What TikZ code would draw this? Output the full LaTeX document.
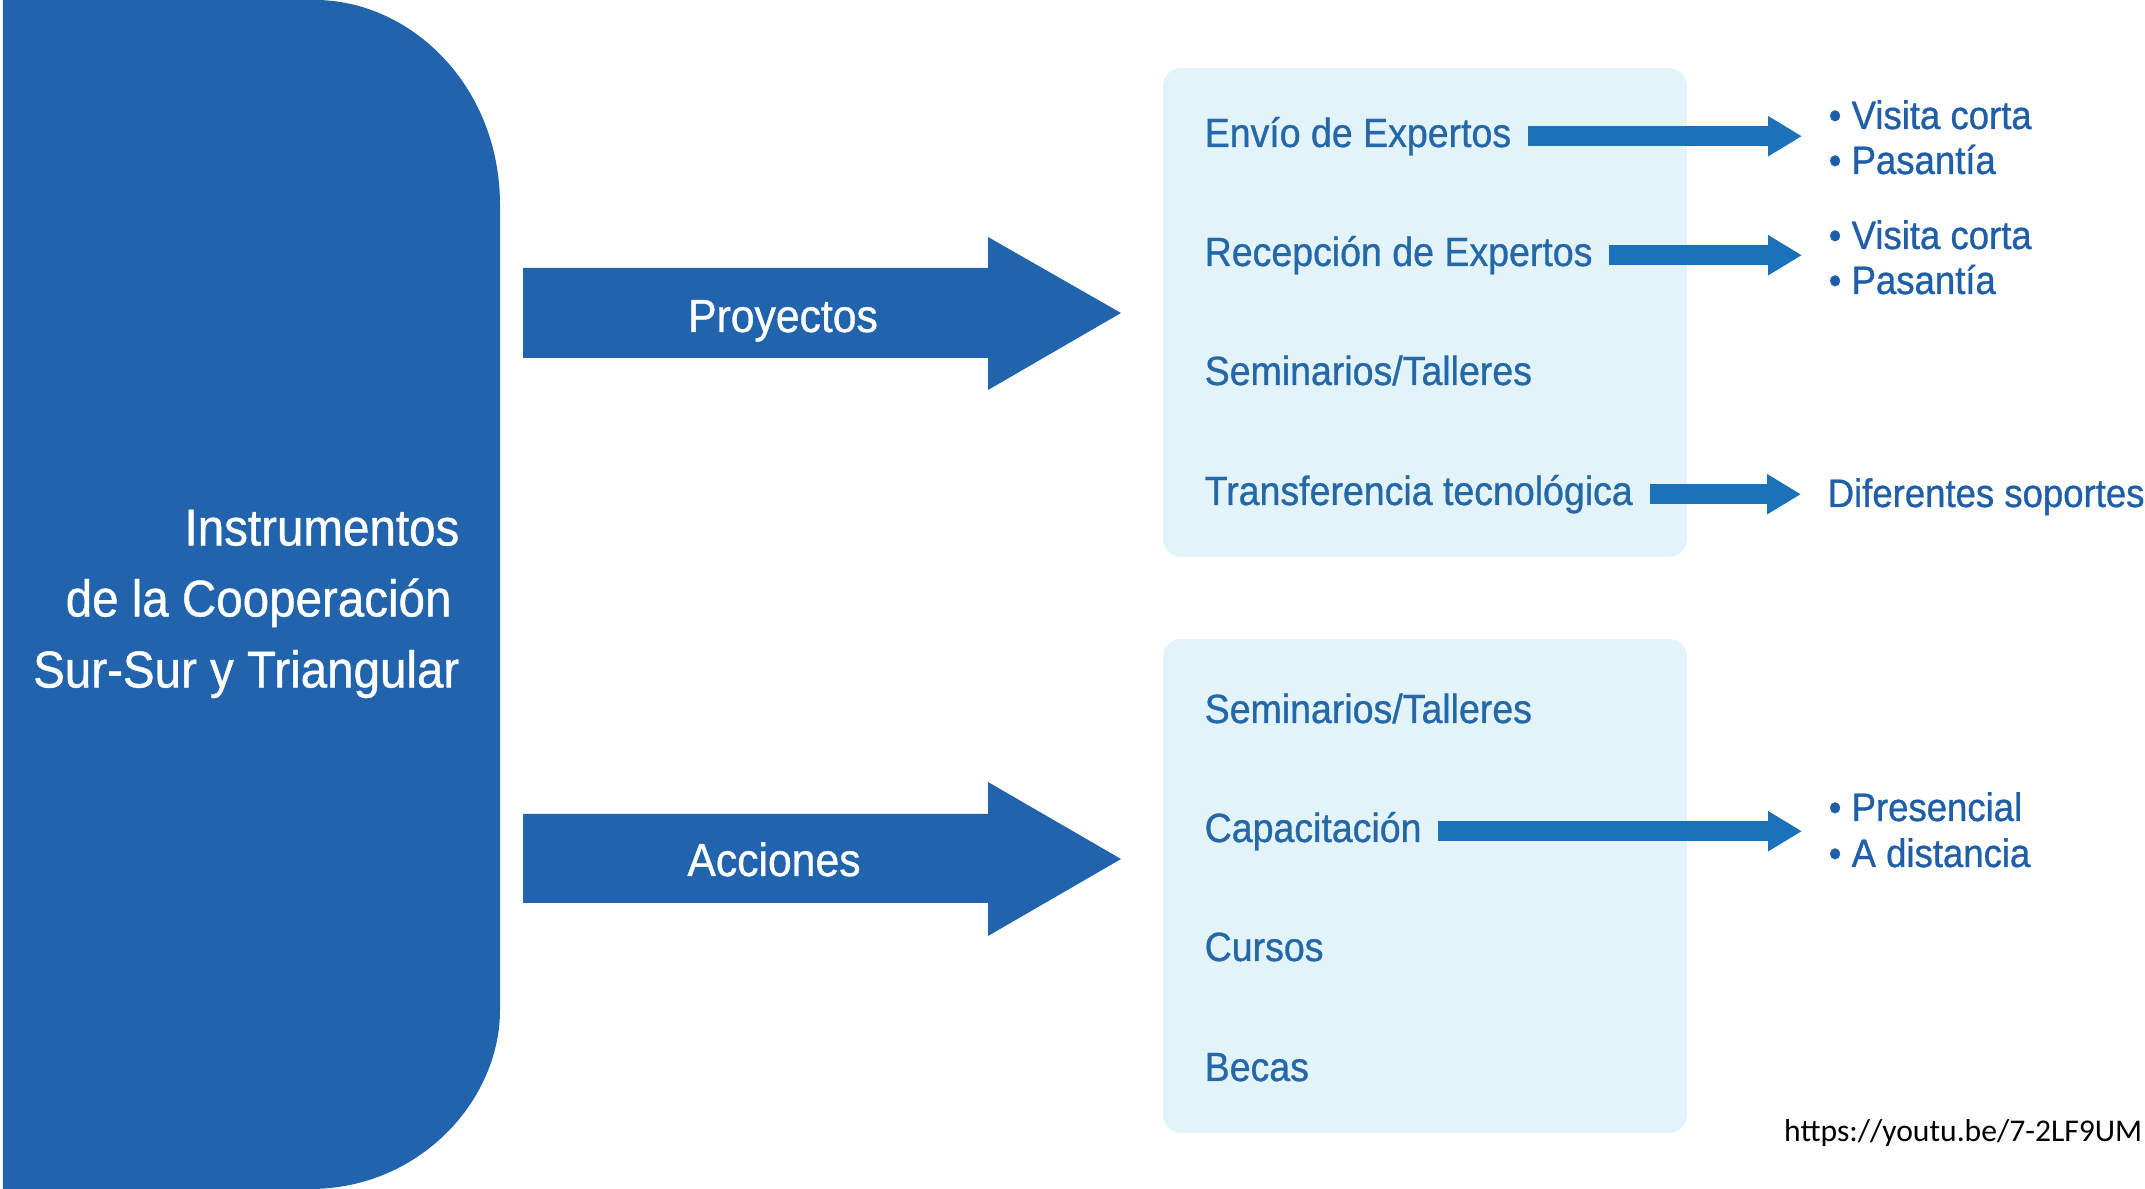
\documentclass[tikz,border=0pt]{standalone}
\usepackage{fontspec}
\setmainfont{Liberation Sans}[FakeStretch=0.92, FakeBold=0.8]
\newfontfamily\urlfont{Carlito}
\usetikzlibrary{arrows.meta}
\definecolor{instblue}{HTML}{2263AD}
\definecolor{arrowblue}{HTML}{1B72B8}
\definecolor{itemblue}{HTML}{2468A8}
\definecolor{listblue}{HTML}{1F5EA8}
\definecolor{panelfill}{HTML}{E3F3FA}
\tikzset{
  item/.style={anchor=base west, inner sep=0pt, text=itemblue,
    font=\fontsize{11.6}{13.9}\selectfont},
  sub/.style={anchor=base west, inner sep=0pt, text=listblue,
    font=\fontsize{11.3}{13.6}\selectfont},
  bigarrow/.style={fill=instblue},
  bigtext/.style={anchor=base, inner sep=0pt, text=white,
    font=\fontsize{13.2}{16}\selectfont},
  smallarrow/.style={draw=arrowblue, line width=2mm,
    -{Triangle[length=3.4mm,width=3.8mm]}, shorten <=1.6mm, shorten >=2.6mm},
  panel/.style={fill=panelfill, rounded corners=1.8mm}
}
\begin{document}
\begin{tikzpicture}[x=0.1mm, y=-0.1mm]
    \useasboundingbox (0,0) rectangle (2145,1189);

    \fill[instblue] (3,0) -- (315,0) .. controls (410,0) and (500,85) .. (500,205)
        -- (500,1010) .. controls (500,1100) and (420,1189) .. (310,1189) -- (3,1189) -- cycle;
    \node[anchor=east, inner sep=0pt, text=white, align=right,
        font=\fontsize{14.7}{20.2}\selectfont] (instr) at (460,604)
        {Instrumentos\\ de la Cooperación\mbox{}\hspace{0.15em}\mbox{}\\ Sur-Sur y Triangular};

    \fill[bigarrow] (523,268) -- (988,268) -- (988,237) -- (1121,313) -- (988,390)
        -- (988,358) -- (523,358) -- cycle;
    \fill[bigarrow] (523,814) -- (988,814) -- (988,782) -- (1121,859) -- (988,936)
        -- (988,903) -- (523,903) -- cycle;
    \node[bigtext] (proy) at (783,332) {Proyectos};
    \node[bigtext] (acc) at (774,876) {Acciones};

    \fill[panel] (1163,68) rectangle (1687,557);
    \fill[panel] (1163,639) rectangle (1687,1133);

    \node[item] (envio) at (1204,147) {Envío de Expertos};
    \node[item] (recep) at (1204,266) {Recepción de Expertos};
    \node[item] (semi1) at (1204,385) {Seminarios/Talleres};
    \node[item] (transf) at (1204,505) {Transferencia tecnológica};

    \node[item] (semi2) at (1204,723) {Seminarios/Talleres};
    \node[item] (capac) at (1204,842) {Capacitación};
    \node[item] (cursos) at (1204,961) {Cursos};
    \node[item] (becas) at (1204,1081) {Becas};

    \node[sub] (vc1) at (1828,129) {• Visita corta};
    \node[sub] (pa1) at (1828,174) {• Pasantía};
    \node[sub] (vc2) at (1828,249) {• Visita corta};
    \node[sub] (pa2) at (1828,294) {• Pasantía};
    \node[sub] (dif) at (1827,507) {Diferentes soportes};
    \node[sub] (pres) at (1828,821) {• Presencial};
    \node[sub] (dist) at (1828,867) {• A distancia};

    \draw[smallarrow] (envio.east) -- (envio.east -| vc1.west);
    \draw[smallarrow] (recep.east) -- (recep.east -| vc2.west);
    \draw[smallarrow] (transf.east) -- (transf.east -| dif.west);
    \draw[smallarrow] (capac.east) -- (capac.east -| pres.west);

    \node[anchor=base east, inner sep=0pt, font=\urlfont\fontsize{9}{11}\selectfont]
        (url) at (2143,1142) {https://youtu.be/7-2LF9UM};
\end{tikzpicture}
\end{document}
